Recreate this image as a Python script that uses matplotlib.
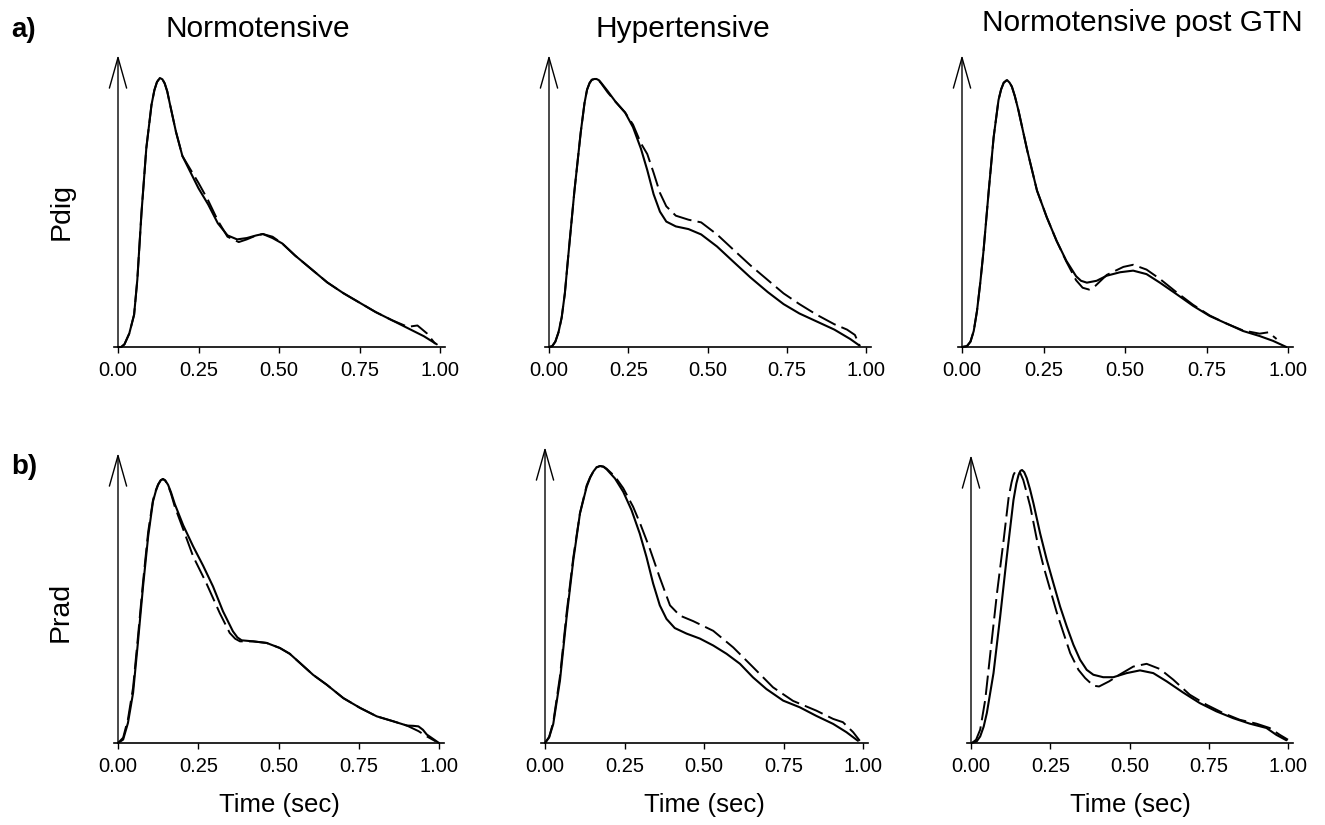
import matplotlib
matplotlib.use("Agg")
import matplotlib.pyplot as plt

plt.rcParams['font.family'] = ['Liberation Sans', 'DejaVu Sans']

# ------------------------------------------------------------------
# data (normalised pressure, peak = 1)
# solid = measured waveform, dashed = second waveform
# ------------------------------------------------------------------

# a) Pdig, Normotensive
dig_norm_t_solid = [0.0, 0.01, 0.02, 0.035, 0.05, 0.06, 0.073, 0.088, 0.104, 0.113, 0.121, 0.13, 0.138,
                    0.145, 0.153, 0.16, 0.18, 0.2, 0.225, 0.25, 0.28, 0.31, 0.34, 0.37, 0.4, 0.43, 0.45,
                    0.48, 0.51, 0.55, 0.6, 0.65, 0.7, 0.75, 0.8, 0.85, 0.9, 0.95, 0.99]
dig_norm_solid = [0.0, 0.0, 0.01, 0.05, 0.12, 0.25, 0.50, 0.74, 0.90, 0.955, 0.985, 1.0, 0.995,
                  0.98, 0.95, 0.91, 0.80, 0.71, 0.65, 0.59, 0.53, 0.46, 0.415, 0.40, 0.405, 0.415, 0.42,
                  0.405, 0.385, 0.34, 0.29, 0.24, 0.20, 0.165, 0.13, 0.10, 0.07, 0.04, 0.01]
dig_norm_t_dashed = [0.0, 0.01, 0.02, 0.035, 0.05, 0.06, 0.073, 0.088, 0.104, 0.113, 0.121, 0.13, 0.138,
                     0.145, 0.153, 0.16, 0.18, 0.2, 0.225, 0.25, 0.28, 0.31, 0.34, 0.375, 0.4, 0.43, 0.45,
                     0.48, 0.51, 0.55, 0.6, 0.65, 0.7, 0.75, 0.8, 0.85, 0.9, 0.93, 0.96, 0.985]
dig_norm_dashed = [0.0, 0.0, 0.01, 0.05, 0.12, 0.25, 0.50, 0.74, 0.90, 0.955, 0.985, 1.0, 0.995,
                   0.98, 0.95, 0.91, 0.80, 0.71, 0.66, 0.61, 0.545, 0.47, 0.41, 0.39, 0.40, 0.415, 0.42,
                   0.41, 0.385, 0.34, 0.29, 0.24, 0.20, 0.165, 0.13, 0.10, 0.075, 0.08, 0.05, 0.012]

# a) Pdig, Hypertensive
dig_hyp_t_solid = [0.0, 0.01, 0.02, 0.03, 0.04, 0.05, 0.06, 0.08, 0.10, 0.112, 0.12, 0.128, 0.135, 0.143,
                   0.15, 0.158, 0.165, 0.185, 0.21, 0.24, 0.265, 0.29, 0.31, 0.33, 0.35, 0.37, 0.40,
                   0.44, 0.48, 0.53, 0.58, 0.635, 0.69, 0.74, 0.79, 0.845, 0.9, 0.95, 0.98]
dig_hyp_solid = [0.0, 0.003, 0.02, 0.055, 0.11, 0.2, 0.33, 0.58, 0.80, 0.91, 0.96, 0.985, 0.997, 1.0,
                 1.0, 0.995, 0.985, 0.955, 0.915, 0.875, 0.82, 0.74, 0.66, 0.57, 0.505, 0.468, 0.45,
                 0.44, 0.42, 0.375, 0.32, 0.26, 0.205, 0.16, 0.125, 0.095, 0.065, 0.03, 0.005]
dig_hyp_t_dashed = [0.0, 0.01, 0.02, 0.03, 0.04, 0.05, 0.06, 0.08, 0.10, 0.112, 0.12, 0.128, 0.135, 0.143,
                    0.15, 0.158, 0.165, 0.185, 0.21, 0.24, 0.265, 0.29, 0.31, 0.33, 0.35, 0.37, 0.40,
                    0.44, 0.48, 0.53, 0.58, 0.635, 0.69, 0.74, 0.79, 0.845, 0.9, 0.94, 0.965, 0.98]
dig_hyp_dashed = [0.0, 0.003, 0.02, 0.055, 0.11, 0.2, 0.33, 0.58, 0.80, 0.91, 0.96, 0.985, 0.997, 1.0,
                  1.0, 0.993, 0.983, 0.95, 0.915, 0.875, 0.83, 0.76, 0.72, 0.65, 0.575, 0.525, 0.49,
                  0.475, 0.465, 0.42, 0.365, 0.305, 0.25, 0.20, 0.16, 0.12, 0.085, 0.065, 0.045, 0.005]

# a) Pdig, Normotensive post GTN
dig_gtn_t_solid = [0.0, 0.015, 0.026, 0.036, 0.046, 0.056, 0.066, 0.082, 0.097, 0.112, 0.12, 0.128,
                   0.138, 0.146, 0.153, 0.162, 0.173, 0.2, 0.23, 0.26, 0.29, 0.32, 0.35, 0.365, 0.383,
                   0.413, 0.444, 0.485, 0.525, 0.566, 0.607, 0.658, 0.709, 0.76, 0.811, 0.862, 0.913,
                   0.954, 0.995]
dig_gtn_solid = [0.0, 0.003, 0.02, 0.06, 0.135, 0.24, 0.36, 0.585, 0.785, 0.925, 0.965, 0.99,
                 1.0, 0.99, 0.975, 0.94, 0.887, 0.737, 0.586, 0.486, 0.398, 0.323, 0.265, 0.248, 0.241,
                 0.248, 0.267, 0.28, 0.286, 0.273, 0.241, 0.198, 0.154, 0.116, 0.088, 0.06, 0.041,
                 0.023, 0.0]
dig_gtn_t_dashed = [0.0, 0.015, 0.026, 0.036, 0.046, 0.056, 0.066, 0.082, 0.097, 0.112, 0.12, 0.128,
                    0.138, 0.146, 0.153, 0.162, 0.173, 0.2, 0.23, 0.26, 0.29, 0.32, 0.35, 0.37, 0.39,
                    0.41, 0.444, 0.495, 0.525, 0.566, 0.607, 0.658, 0.709, 0.76, 0.811, 0.862, 0.913,
                    0.94, 0.965]
dig_gtn_dashed = [0.0, 0.003, 0.02, 0.06, 0.135, 0.24, 0.36, 0.585, 0.785, 0.925, 0.965, 0.99,
                  1.0, 0.99, 0.975, 0.94, 0.887, 0.737, 0.586, 0.486, 0.398, 0.32, 0.25, 0.222, 0.215,
                  0.23, 0.27, 0.30, 0.308, 0.29, 0.255, 0.205, 0.158, 0.118, 0.088, 0.062, 0.05, 0.055,
                  0.03]

# b) Prad, Normotensive
rad_norm_t_solid = [0.0, 0.016, 0.031, 0.047, 0.062, 0.078, 0.094, 0.109, 0.118, 0.125, 0.133, 0.14,
                    0.147, 0.156, 0.165, 0.177, 0.203, 0.234, 0.265, 0.296, 0.327, 0.358, 0.372, 0.385,
                    0.421, 0.463, 0.504, 0.535, 0.567, 0.608, 0.65, 0.702, 0.754, 0.806, 0.858, 0.9,
                    0.92, 0.936, 0.95, 0.962, 1.0]
rad_norm_solid = [0.0, 0.013, 0.076, 0.19, 0.38, 0.593, 0.783, 0.915, 0.955, 0.978, 0.995, 1.0,
                  0.995, 0.978, 0.95, 0.905, 0.825, 0.745, 0.672, 0.593, 0.499, 0.423, 0.40, 0.389,
                  0.385, 0.379, 0.36, 0.338, 0.303, 0.258, 0.221, 0.17, 0.133, 0.101, 0.082, 0.066,
                  0.065, 0.063, 0.05, 0.032, 0.0]
rad_norm_t_dashed = [0.0, 0.016, 0.031, 0.047, 0.062, 0.078, 0.094, 0.109, 0.118, 0.125, 0.133, 0.14,
                     0.147, 0.156, 0.165, 0.177, 0.203, 0.234, 0.275, 0.317, 0.348, 0.365, 0.38, 0.421,
                     0.463, 0.504, 0.535, 0.567, 0.608, 0.65, 0.702, 0.754, 0.806, 0.858, 0.9, 0.936,
                     0.962, 0.99]
rad_norm_dashed = [0.0, 0.02, 0.09, 0.21, 0.40, 0.61, 0.80, 0.92, 0.958, 0.98, 0.995, 1.0,
                   0.994, 0.975, 0.945, 0.895, 0.81, 0.707, 0.606, 0.492, 0.417, 0.395, 0.385, 0.385,
                   0.379, 0.36, 0.338, 0.303, 0.258, 0.221, 0.17, 0.133, 0.101, 0.082, 0.066, 0.045,
                   0.025, 0.006]

# b) Prad, Hypertensive
rad_hyp_t_solid = [0.0, 0.013, 0.026, 0.047, 0.068, 0.089, 0.11, 0.131, 0.142, 0.152, 0.162, 0.173,
                   0.184, 0.194, 0.22, 0.246, 0.272, 0.298, 0.319, 0.34, 0.361, 0.382, 0.408, 0.445,
                   0.487, 0.529, 0.571, 0.613, 0.654, 0.696, 0.749, 0.801, 0.853, 0.906, 0.948, 0.984]
rad_hyp_solid = [0.0, 0.02, 0.069, 0.225, 0.455, 0.66, 0.829, 0.925, 0.958, 0.98, 0.995, 1.0,
                 0.997, 0.988, 0.955, 0.907, 0.841, 0.756, 0.672, 0.576, 0.497, 0.448, 0.415, 0.395,
                 0.377, 0.352, 0.322, 0.286, 0.237, 0.195, 0.153, 0.129, 0.098, 0.069, 0.039, 0.008]
rad_hyp_t_dashed = [0.0, 0.013, 0.026, 0.047, 0.068, 0.089, 0.11, 0.131, 0.142, 0.152, 0.162, 0.173,
                    0.184, 0.194, 0.22, 0.246, 0.277, 0.3, 0.33, 0.36, 0.393, 0.424, 0.466, 0.529,
                    0.592, 0.654, 0.717, 0.78, 0.853, 0.906, 0.937, 0.969, 0.99]
rad_hyp_dashed = [0.0, 0.022, 0.075, 0.24, 0.47, 0.67, 0.83, 0.93, 0.96, 0.98, 0.995, 1.0,
                  0.998, 0.99, 0.962, 0.92, 0.853, 0.79, 0.70, 0.60, 0.497, 0.46, 0.44, 0.405, 0.345,
                  0.274, 0.201, 0.152, 0.117, 0.087, 0.075, 0.039, 0.008]

# b) Prad, Normotensive post GTN
rad_gtn_t_solid = [0.003, 0.018, 0.029, 0.04, 0.05, 0.071, 0.092, 0.113, 0.134, 0.143, 0.15, 0.156, 0.161,
                   0.168, 0.176, 0.186, 0.197, 0.218, 0.239, 0.26, 0.281, 0.302, 0.323, 0.344, 0.365,
                   0.386, 0.417, 0.449, 0.491, 0.533, 0.575, 0.617, 0.669, 0.722, 0.774, 0.827, 0.879,
                   0.932, 0.963, 0.995]
rad_gtn_solid = [0.0, 0.006, 0.024, 0.06, 0.11, 0.256, 0.463, 0.683, 0.89, 0.95, 0.982, 0.997, 1.0,
                 0.992, 0.97, 0.93, 0.878, 0.768, 0.671, 0.585, 0.5, 0.427, 0.36, 0.305, 0.268, 0.25,
                 0.241, 0.241, 0.256, 0.266, 0.256, 0.226, 0.185, 0.146, 0.116, 0.091, 0.071, 0.055,
                 0.03, 0.01]
rad_gtn_t_dashed = [0.003, 0.016, 0.029, 0.045, 0.061, 0.082, 0.103, 0.119, 0.128, 0.134, 0.141, 0.147,
                    0.155, 0.165, 0.175, 0.187, 0.208, 0.229, 0.25, 0.271, 0.292, 0.313, 0.339, 0.36,
                    0.386, 0.404, 0.436, 0.468, 0.512, 0.554, 0.596, 0.638, 0.69, 0.743, 0.795, 0.848,
                    0.9, 0.942, 0.974, 1.0]
rad_gtn_dashed = [0.0, 0.012, 0.049, 0.159, 0.329, 0.549, 0.744, 0.902, 0.955, 0.982, 0.997, 1.0,
                  0.99, 0.963, 0.92, 0.866, 0.744, 0.646, 0.561, 0.476, 0.402, 0.329, 0.268, 0.238,
                  0.21, 0.207, 0.226, 0.25, 0.28, 0.29, 0.271, 0.232, 0.177, 0.14, 0.11, 0.085, 0.071,
                  0.055, 0.03, 0.012]

titles = ['Normotensive', 'Hypertensive', 'Normotensive post GTN']
row_labels = ['Pdig', 'Prad']
row_tags = ['a)', 'b)']
xticks = [0.0, 0.25, 0.5, 0.75, 1.0]
xticklabels = ['0.00', '0.25', '0.50', '0.75', '1.00']

panels = [
    [(dig_norm_t_solid, dig_norm_solid, dig_norm_t_dashed, dig_norm_dashed),
     (dig_hyp_t_solid, dig_hyp_solid, dig_hyp_t_dashed, dig_hyp_dashed),
     (dig_gtn_t_solid, dig_gtn_solid, dig_gtn_t_dashed, dig_gtn_dashed)],
    [(rad_norm_t_solid, rad_norm_solid, rad_norm_t_dashed, rad_norm_dashed),
     (rad_hyp_t_solid, rad_hyp_solid, rad_hyp_t_dashed, rad_hyp_dashed),
     (rad_gtn_t_solid, rad_gtn_solid, rad_gtn_t_dashed, rad_gtn_dashed)],
]

# ------------------------------------------------------------------
# layout (pixels of a 1325 x 825 canvas)
# ------------------------------------------------------------------
W, H = 1325, 825
x0_px = [[118, 549, 962], [118, 545, 971]]     # where t = 0 sits
x1_px = [[440, 866, 1288], [439, 863, 1288]]   # where t = 1 sits
axis_px = [347, 743]                            # baseline of each row
tip_px = [[55, 55, 55], [453, 447, 455]]        # top of the arrow
peak_px = [[78, 79, 80], [479, 466, 470]]       # height of the peak
XMIN, XMAX = -0.012, 1.015

fig = plt.figure(figsize=(W / 100, H / 100), dpi=100)

for r in range(2):
    for c in range(3):
        x0, x1 = x0_px[r][c], x1_px[r][c]
        w = x1 - x0
        left = x0 + XMIN * w
        width = (XMAX - XMIN) * w
        base = axis_px[r]
        top = tip_px[r][c]
        ax = fig.add_axes([left / W, (H - base) / H, width / W, (base - top) / H])
        ymax = (base - top) / (base - peak_px[r][c])

        ts, ys, td, yd = panels[r][c]
        ax.plot(ts, ys, color='black', lw=1.5, clip_on=False,
                solid_capstyle='round', solid_joinstyle='round')
        ax.plot(td, yd, color='black', lw=1.4, ls=(0, (10, 3.2)), clip_on=False,
                dash_joinstyle='round')

        ax.set_xlim(XMIN, XMAX)
        ax.set_ylim(0, ymax)
        for s in ['top', 'right', 'left']:
            ax.spines[s].set_visible(False)
        ax.spines['bottom'].set_linewidth(1.2)
        ax.set_yticks([])
        ax.set_xticks(xticks)
        ax.set_xticklabels(xticklabels)
        ax.tick_params(axis='x', direction='out', length=4, width=1.0, labelsize=14.5, pad=6)
        ax.patch.set_alpha(0)

        # vertical axis drawn as an open arrow
        ax.annotate('', xy=(0, ymax), xytext=(0, 0), xycoords='data',
                    arrowprops=dict(arrowstyle='->,head_length=2.2,head_width=0.62',
                                    lw=1.0, color='black', shrinkA=0, shrinkB=0),
                    annotation_clip=False)

        if r == 1:
            ax.set_xlabel('Time (sec)', fontsize=18.5, labelpad=12)

# column titles
fig.text(258 / W, 1 - 37 / H, titles[0], fontsize=21.5, ha='center', va='baseline')
fig.text(683 / W, 1 - 37 / H, titles[1], fontsize=21.5, ha='center', va='baseline')
fig.text(1142 / W, 1 - 31 / H, titles[2], fontsize=21.5, ha='center', va='baseline')

# row labels and tags
fig.text(62 / W, 1 - 212 / H, row_labels[0], fontsize=20.5, rotation=90, ha='center', va='center')
fig.text(61 / W, 1 - 612 / H, row_labels[1], fontsize=20.5, rotation=90, ha='center', va='center')
fig.text(24 / W, 1 - 30 / H, row_tags[0], fontsize=20, fontweight='bold', ha='center', va='center')
fig.text(24 / W, 1 - 467 / H, row_tags[1], fontsize=20, fontweight='bold', ha='center', va='center')

fig.savefig('out.png', dpi=100, facecolor='white')
